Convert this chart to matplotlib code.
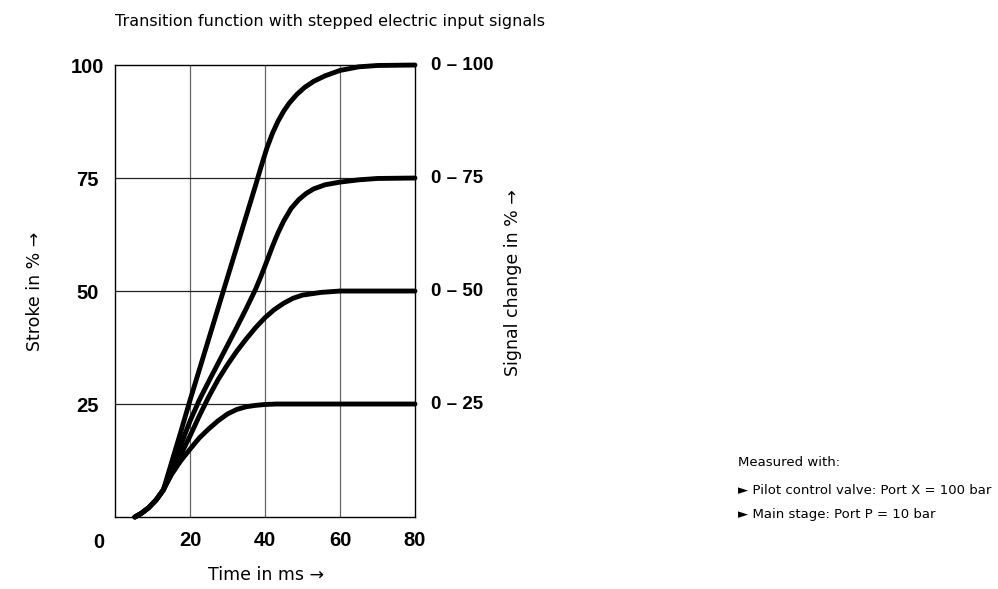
import matplotlib
matplotlib.use("Agg")
import matplotlib.pyplot as plt

# values (time in ms, stroke in %)
t_100 = [5.3, 7, 8.9, 11, 12.9, 15, 17.5, 20, 22.5, 25, 27.5, 30, 32.5, 35, 37.5, 39, 40.5, 42, 43.5, 45, 46.5, 48.5, 50.5, 53, 56, 60, 65, 70, 80]
s_100 = [0, 0.8, 2, 3.8, 6, 11.8, 18.7, 25.8, 32.6, 39.4, 46.2, 53, 59.8, 66.6, 73.4, 77.6, 81.6, 84.9, 87.6, 89.8, 91.6, 93.5, 95, 96.4, 97.6, 98.8, 99.6, 99.9, 100]
t_75 = [5.3, 7, 8.9, 11, 12.9, 15, 17.5, 20, 22.5, 25, 27.5, 30, 32.5, 35, 37.5, 39, 40.5, 42, 43.5, 45, 47, 49, 51, 53, 56, 60, 65, 70, 80]
s_75 = [0, 0.8, 2, 3.8, 6, 10.3, 15.8, 21.2, 25.9, 30, 34, 38, 42, 46.1, 50.4, 53.4, 56.6, 59.9, 62.9, 65.5, 68.3, 70.2, 71.6, 72.6, 73.5, 74.1, 74.6, 74.9, 75]
t_50 = [5.3, 7, 8.9, 11, 12.9, 15, 17.5, 20, 22.5, 25, 27.5, 30, 32.5, 35, 37.5, 40, 42.5, 45, 47.5, 50, 55, 60, 80]
s_50 = [0, 0.8, 2, 3.8, 6, 9.5, 13.7, 17.9, 22.4, 26.6, 30.4, 33.7, 36.7, 39.4, 41.9, 44.1, 45.9, 47.3, 48.4, 49.1, 49.7, 50, 50]
t_25 = [5.3, 7, 8.9, 11, 12.9, 15, 17.5, 20, 22.5, 25, 27.5, 30, 32.5, 35, 37.5, 40, 43, 47, 80]
s_25 = [0, 0.8, 2, 3.8, 6, 9.3, 12.4, 15, 17.5, 19.5, 21.3, 22.8, 23.8, 24.4, 24.7, 24.9, 25, 25, 25]

curves = [(t_100, s_100, "0 – 100"), (t_75, s_75, "0 – 75"),
          (t_50, s_50, "0 – 50"), (t_25, s_25, "0 – 25")]
x_ticks = [20, 40, 60, 80]
y_ticks = [25, 50, 75, 100]

bold = ["Liberation Sans", "DejaVu Sans"]
plain = "DejaVu Sans"

fig = plt.figure(figsize=(9.98, 5.89), dpi=100)
ax = fig.add_axes([0.1152, 0.1222, 0.3006, 0.7674])
ax.set_xlim(0, 80)
ax.set_ylim(0, 100)

for v in x_ticks[:-1]:
    ax.axvline(v, color="#666666", lw=0.9, zorder=1)
for v in y_ticks[:-1]:
    ax.axhline(v, color="#222222", lw=0.9, zorder=1)

for t, s, lab in curves:
    ax.plot(t, s, color="black", lw=3.5, solid_capstyle="round",
            solid_joinstyle="round", clip_on=False, zorder=3)
    ax.text(84.3, s[-1], lab, family=bold, fontweight="bold", fontsize=13.5,
            ha="left", va="center", clip_on=False)

for sp in ax.spines.values():
    sp.set_linewidth(1.0)

ax.set_xticks(x_ticks)
ax.set_yticks(y_ticks)
ax.tick_params(length=0)
ax.tick_params(axis="x", pad=10)
ax.tick_params(axis="y", pad=20)
ax.set_xticklabels([str(v) for v in x_ticks], family=bold, fontweight="bold", fontsize=14.5)
ax.set_yticklabels([str(v) for v in y_ticks], family=bold, fontweight="bold", fontsize=14.5, ha="center")
ax.text(-4.3, -3.5, "0", family=bold, fontweight="bold", fontsize=14.5, ha="center", va="top")

fig.text(0.331, 0.963, "Transition function with stepped electric input signals",
         family=plain, fontsize=11.5, ha="center", va="center")

fig.text(0.2665, 0.024, "Time in ms →", family=plain, fontsize=12.5, ha="center", va="center")
fig.text(0.035, 0.506, "Stroke in % →", family=plain, fontsize=12.5, rotation=90, ha="center", va="center")
fig.text(0.514, 0.521, "Signal change in % →", family=plain, fontsize=12.5, rotation=90, ha="center", va="center")

fig.text(0.739, 0.214, "Measured with:", family=plain, fontsize=9.5, ha="left", va="center")
fig.text(0.739, 0.168, "► Pilot control valve: Port X = 100 bar", family=plain, fontsize=9.5, ha="left", va="center")
fig.text(0.739, 0.126, "► Main stage: Port P = 10 bar", family=plain, fontsize=9.5, ha="left", va="center")

fig.savefig("out.png", dpi=100)
